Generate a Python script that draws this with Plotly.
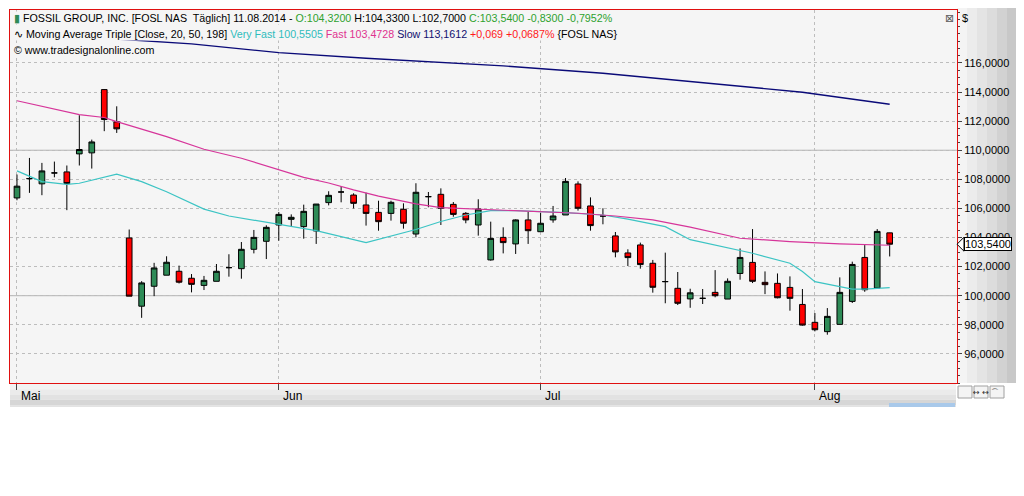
import pandas as pd
import plotly.graph_objects as go

# trading days 01.05.2014 - 11.08.2014 (no Memorial Day / 4th of July)
days = pd.bdate_range("2014-05-01", "2014-08-11")
days = [d for d in days if d.strftime("%Y-%m-%d") not in ("2014-05-26", "2014-07-04")]
date_labels = [d.strftime("%d.%m.%Y") for d in days]

opens = [106.72, 108.05, 107.69, 108.44, 108.51, 109.75, 109.82, 114.17, 111.95, 103.97,
         99.28, 100.65, 101.41, 101.68, 101.20, 100.71, 100.99, 101.93, 101.86, 103.19,
         103.74, 104.86, 105.25, 104.75, 104.45, 106.40, 107.13, 106.92, 106.24, 105.73,
         105.66, 105.94, 104.24, 106.81, 106.97, 106.28, 105.66, 104.86, 102.46, 104.01,
         103.56, 105.21, 104.40, 105.21, 105.55, 107.68, 106.17, 105.48, 104.11, 102.94,
         103.49, 102.23, 100.97, 100.51, 99.78, 99.82, 100.23, 99.77, 101.53, 102.29,
         100.92, 100.85, 100.57, 99.40, 98.17, 97.53, 98.03, 99.61, 102.63, 100.53,
         104.32]
highs = [108.33, 109.47, 109.13, 109.22, 108.95, 112.41, 110.73, 114.20, 113.02, 104.55,
         101.00, 102.26, 102.71, 102.07, 101.49, 101.36, 102.18, 102.85, 103.69, 104.52,
         104.84, 105.75, 105.59, 106.26, 106.30, 107.18, 107.54, 107.04, 107.08, 106.53,
         106.53, 106.35, 107.73, 107.13, 107.38, 106.44, 105.75, 106.63, 105.09, 104.70,
         105.25, 105.78, 105.71, 106.17, 108.09, 107.86, 106.76, 106.01, 104.38, 103.19,
         103.65, 102.46, 102.96, 101.63, 100.48, 100.46, 101.76, 101.19, 103.25, 104.58,
         101.67, 101.53, 101.33, 100.46, 98.81, 99.15, 101.26, 102.34, 103.48, 104.58,
         104.33]
lows = [106.56, 107.07, 106.91, 108.14, 105.88, 108.95, 108.74, 111.31, 111.19, 99.97,
        98.48, 99.97, 101.41, 100.84, 100.23, 100.39, 100.99, 101.31, 101.17, 102.91,
        102.52, 103.78, 104.75, 103.92, 103.56, 106.21, 106.42, 106.00, 104.82, 104.47,
        105.16, 104.61, 104.01, 106.08, 104.86, 105.43, 104.98, 104.13, 102.41, 102.91,
        102.87, 103.56, 104.40, 105.02, 105.55, 105.85, 104.47, 104.91, 102.64, 102.04,
        101.86, 100.21, 99.48, 99.36, 99.17, 99.43, 99.89, 99.77, 101.10, 100.87,
        100.11, 99.82, 98.97, 97.94, 97.55, 97.32, 98.03, 99.50, 100.27, 100.53,
        102.70]
closes = [107.53, 108.05, 108.58, 108.44, 107.71, 110.05, 110.57, 112.11, 111.47, 99.97,
          100.88, 101.91, 102.30, 100.93, 100.78, 101.06, 101.68, 101.93, 103.19, 104.01,
          104.70, 105.59, 105.39, 105.80, 106.30, 106.90, 107.13, 106.35, 105.66, 105.09,
          106.42, 104.98, 107.11, 106.81, 106.01, 105.59, 105.21, 105.96, 103.94, 103.65,
          105.21, 104.47, 104.98, 105.48, 107.86, 106.01, 104.82, 105.48, 103.01, 102.62,
          102.14, 100.58, 100.97, 99.48, 100.20, 99.82, 100.00, 100.99, 102.63, 100.99,
          100.76, 99.86, 99.82, 97.98, 97.66, 98.58, 100.23, 102.15, 100.41, 104.42,
          103.54]

# moving averages (bar index, value)
very_fast_idx = [0, 2, 4, 5, 8, 10, 12, 15, 17, 21, 24, 28, 32, 34, 36, 38, 40, 44, 47,
                 49, 52, 54, 56, 59, 62, 63, 64, 66, 67, 68, 70]
very_fast_val = [108.58, 107.84, 107.66, 107.73, 108.35, 107.84, 107.15, 105.95, 105.48, 104.93,
                 104.47, 103.65, 104.55, 105.10, 105.55, 105.85, 105.85, 105.71, 105.55,
                 105.26, 104.75, 103.85, 103.49, 102.92, 102.23, 101.66, 100.97, 100.63, 100.45,
                 100.45, 100.55]
fast_idx = [0, 5, 7, 8, 12, 15, 18, 21, 23, 25, 27, 29, 32, 34, 37, 41, 45, 48, 51, 54, 58, 62, 66, 70]
fast_val = [113.40, 112.45, 112.25, 111.97, 110.94, 110.07, 109.45, 108.65, 108.14, 107.75,
            107.27, 106.85, 106.31, 106.05, 105.95, 105.78, 105.67, 105.48, 105.21, 104.71,
            103.95, 103.72, 103.56, 103.47]
slow_idx = [0, 7, 14, 21, 28, 33, 39, 47, 55, 63, 70]
slow_val = [118.00, 117.70, 117.31, 116.71, 116.32, 116.09, 115.80, 115.29, 114.65, 113.99, 113.16]

month_idx = [0, 21, 42, 64]
month_names = ["Mai", "Jun", "Jul", "Aug"]
price_ticks = [96, 98, 100, 102, 104, 106, 108, 110, 112, 114, 116]
last_close = closes[-1]

# page has an 8px body margin, so the figure sits at (8, 8)
OFF = 8
W, H = 1016, 488
L, R, T, B = 2, 67, 2, 113
PLOT_BG = "#f5f5f5"
FONT = "Liberation Sans, Arial, sans-serif"


def px(x):
    # page pixel -> paper x
    return (x - OFF - L) / (W - L - R)


def py(y):
    # page pixel -> paper y
    return (H - B - (y - OFF)) / (H - T - B)


bars = list(range(len(closes)))

fig = go.Figure()
fig.add_trace(go.Candlestick(
    x=bars, open=opens, high=highs, low=lows, close=closes,
    text=date_labels, hoverinfo="text+y",
    increasing=dict(fillcolor="#2e8b57", line=dict(color="black", width=1)),
    decreasing=dict(fillcolor="#ff0000", line=dict(color="black", width=1)),
    whiskerwidth=0, name="FOSL NAS"))
fig.add_trace(go.Scatter(x=very_fast_idx, y=very_fast_val, mode="lines",
                         line=dict(color="#3cc4c4", width=1.2), name="Very Fast"))
fig.add_trace(go.Scatter(x=fast_idx, y=fast_val, mode="lines",
                         line=dict(color="#d6359a", width=1.2), name="Fast"))
fig.add_trace(go.Scatter(x=slow_idx, y=slow_val, mode="lines",
                         line=dict(color="#0a0a78", width=1.4), name="Slow"))

shapes = []
# solid reference lines at 110 and 100
for lvl in (110, 100):
    shapes.append(dict(type="line", xref="paper", yref="y", x0=0, x1=1, y0=lvl, y1=lvl,
                       line=dict(color="#b4b4b4", width=1), layer="below"))
# right axis panel (gradient)
panel_cols = ["#f4f4f4", "#ececec", "#e4e4e4", "#dcdcdc", "#d2d2d2", "#c8c8c8"]
for i, c in enumerate(panel_cols):
    x0 = 957 + i * 10
    shapes.append(dict(type="rect", xref="paper", yref="paper", x0=px(x0), x1=px(x0 + 10),
                       y0=py(383), y1=py(8), fillcolor=c, line=dict(width=0), layer="below"))
# time axis panel
for i, c in enumerate(["#f2f2f2", "#ebebeb", "#e2e2e2", "#d6d6d6"]):
    y0 = 384 + i * 5.25
    shapes.append(dict(type="rect", xref="paper", yref="paper", x0=px(10), x1=px(956),
                       y0=py(y0 + 5.25), y1=py(y0), fillcolor=c, line=dict(width=0), layer="below"))
# scroll bar
shapes.append(dict(type="line", xref="paper", yref="paper", x0=px(10), x1=px(956),
                   y0=py(406), y1=py(406), line=dict(color="#c8c8c8", width=1)))
shapes.append(dict(type="rect", xref="paper", yref="paper", x0=px(889), x1=px(955),
                   y0=py(407), y1=py(403), fillcolor="#a9c9ea", line=dict(width=0)))
# little buttons under the price axis
for bx in (958, 974, 990):
    shapes.append(dict(type="rect", xref="paper", yref="paper", x0=px(bx), x1=px(bx + 14),
                       y0=py(398), y1=py(386), fillcolor="#f4f4f4",
                       line=dict(color="#a0a0a0", width=1)))
# price marker arrow
shapes.append(dict(type="path", xref="paper", yref="y",
                   path=f"M {px(957)},{last_close} L {px(964)},{last_close + 0.48} "
                        f"L {px(964)},{last_close - 0.48} Z",
                   fillcolor="white", line=dict(color="black", width=1)))

green = "#2ea12e"
header1 = ("<span style='color:#2e8b57'>&#9646;</span> FOSSIL GROUP, INC. [FOSL NAS  Täglich] 11.08.2014 - "
           f"<span style='color:{green}'>O:104,3200</span> H:104,3300 L:102,7000 "
           f"<span style='color:{green}'>C:103,5400 -0,8300 -0,7952%</span>")
header2 = ("&#8767; Moving Average Triple [Close, 20, 50, 198] "
           "<span style='color:#2fbcbc'>Very Fast 100,5505</span> "
           "<span style='color:#e0338f'>Fast 103,4728</span> "
           "<span style='color:#101070'>Slow 113,1612</span> "
           "<span style='color:#ff1a1a'>+0,069 +0,0687%</span> {FOSL NAS}")
header3 = "&#169; www.tradesignalonline.com"

annotations = []
for txt, yy in ((header1, 18), (header2, 34), (header3, 50)):
    annotations.append(dict(text=txt, xref="paper", yref="paper", x=px(13), y=py(yy),
                            xanchor="left", yanchor="middle", showarrow=False,
                            bgcolor=PLOT_BG, borderpad=0,
                            font=dict(family=FONT, size=10.7, color="black")))
for i, name in zip(month_idx, month_names):
    annotations.append(dict(text=name, xref="x", yref="paper", x=i, y=py(396),
                            xanchor="left", yanchor="middle", xshift=2, showarrow=False,
                            font=dict(family="Liberation Sans Narrow, Arial Narrow, " + FONT,
                                      size=12, color="black")))
annotations.append(dict(text="$", xref="paper", yref="paper", x=px(960), y=py(18),
                        xanchor="left", yanchor="middle", showarrow=False,
                        font=dict(family=FONT, size=11, color="black")))
annotations.append(dict(text="&#8864;", xref="paper", yref="paper", x=px(949), y=py(18),
                        xanchor="center", yanchor="middle", showarrow=False,
                        font=dict(family="DejaVu Sans", size=11, color="#555555")))
annotations.append(dict(text="↔ ↔ ⌒", xref="paper", yref="paper", x=px(986), y=py(392),
                        xanchor="center", yanchor="middle", showarrow=False,
                        font=dict(family="DejaVu Sans", size=8, color="#333333")))
annotations.append(dict(text="103,5400", xref="paper", yref="y", x=px(964), y=last_close,
                        xanchor="left", yanchor="middle", showarrow=False,
                        bgcolor="white", bordercolor="black", borderwidth=1, borderpad=0,
                        font=dict(family=FONT, size=11, color="black")))

fig.update_layout(
    width=W, height=H,
    margin=dict(l=L, r=R, t=T, b=B),
    paper_bgcolor="white", plot_bgcolor=PLOT_BG,
    separators=",.",
    showlegend=False,
    boxgap=0.35,
    shapes=shapes, annotations=annotations,
    xaxis=dict(range=[-0.56, 75.4], rangeslider=dict(visible=False),
               tickvals=month_idx, showticklabels=False,
               ticks="outside", ticklen=6, tickcolor="#444444",
               showgrid=True, gridcolor="#bdbdbd", griddash="dot", gridwidth=1,
               showline=True, linecolor="#e01010", linewidth=1, mirror=True, zeroline=False),
    yaxis=dict(range=[94.0, 119.64], side="right", tickvals=price_ticks, tickformat=".4f",
               ticks="outside", ticklen=4, tickcolor="#444444",
               tickfont=dict(family=FONT, size=11, color="black"),
               minor=dict(dtick=0.5, tick0=0, ticks="outside", ticklen=2, tickcolor="#444444",
                          showgrid=False),
               showgrid=True, gridcolor="#bdbdbd", griddash="dot", gridwidth=1,
               showline=True, linecolor="#e01010", linewidth=1, mirror=True, zeroline=False),
)

fig.write_html("out.html")
